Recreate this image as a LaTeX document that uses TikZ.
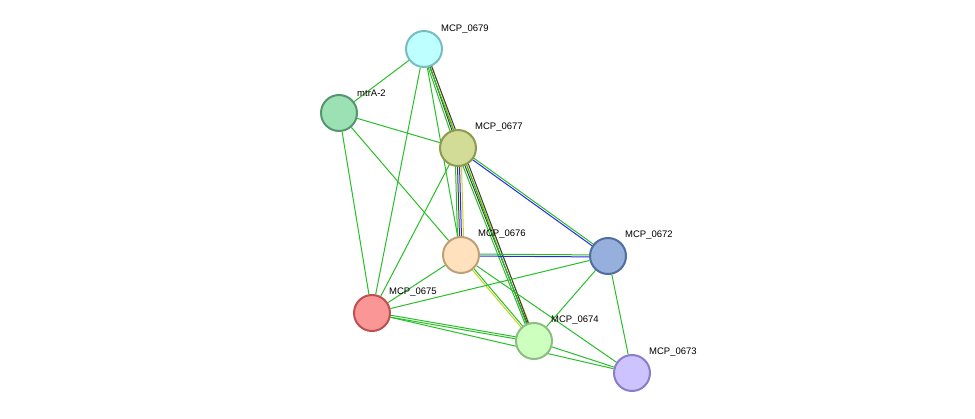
\documentclass[tikz,border=0pt]{standalone}
\usepackage{fontspec}
\setmainfont{Liberation Sans}
\usetikzlibrary{backgrounds,calc}
\tikzset{
	vert/.style={circle,line width=2pt,minimum size=36pt,inner sep=0},
	vlabel/.style={font=\fontsize{9.5}{11}\selectfont,anchor=south west,inner sep=1pt},
	edge/.style={line width=1pt}
}
\definecolor{sgreen}{RGB}{40,190,40}
\definecolor{sblue}{RGB}{40,40,230}
\definecolor{syellow}{RGB}{200,210,30}
\definecolor{sgray}{RGB}{60,60,60}
\definecolor{fA}{RGB}{190,255,255}\definecolor{dA}{RGB}{120,190,190}
\definecolor{fB}{RGB}{155,225,180}\definecolor{dB}{RGB}{85,150,110}
\definecolor{fC}{RGB}{210,220,150}\definecolor{dC}{RGB}{140,155,80}
\definecolor{fD}{RGB}{255,225,190}\definecolor{dD}{RGB}{190,160,120}
\definecolor{fE}{RGB}{150,175,220}\definecolor{dE}{RGB}{80,110,160}
\definecolor{fF}{RGB}{250,150,150}\definecolor{dF}{RGB}{190,80,80}
\definecolor{fG}{RGB}{205,255,190}\definecolor{dG}{RGB}{140,190,130}
\definecolor{fH}{RGB}{205,195,255}\definecolor{dH}{RGB}{140,125,200}
% parallel edge: from, to, offset, colour
\newcommand{\pedge}[4]{\draw [edge,#4] ($(#1)!#3!90:(#2)$) -- ($(#2)!#3!-90:(#1)$);}

\begin{document}
\begin{tikzpicture}[x=1pt,y=-1pt]
		\useasboundingbox (0,0) rectangle (975,419);
		\node [vert, draw=dA, fill=fA] (0679) at (424, 49) {};
		\node [vert, draw=dB, fill=fB] (mtrA) at (339, 113) {};
		\node [vert, draw=dC, fill=fC] (0677) at (458, 148) {};
		\node [vert, draw=dD, fill=fD] (0676) at (461, 255) {};
		\node [vert, draw=dE, fill=fE] (0672) at (608, 256) {};
		\node [vert, draw=dF, fill=fF] (0675) at (372, 313) {};
		\node [vert, draw=dG, fill=fG] (0674) at (534, 341) {};
		\node [vert, draw=dH, fill=fH] (0673) at (632, 373) {};
		
		\node [vlabel] at (440, 35) {MCP\_0679};
		\node [vlabel] at (356, 98) {mtrA-2};
		\node [vlabel] at (474, 133) {MCP\_0677};
		\node [vlabel] at (477, 240) {MCP\_0676};
		\node [vlabel] at (624, 241) {MCP\_0672};
		\node [vlabel] at (388, 298) {MCP\_0675};
		\node [vlabel] at (550, 326) {MCP\_0674};
		\node [vlabel] at (648, 358) {MCP\_0673};
		
		\begin{pgfonlayer}{background}
		% multi-evidence edges
		\pedge{0679}{0677}{-2pt}{sgreen}
		\pedge{0679}{0677}{0pt}{sgray}
		\pedge{0679}{0677}{2pt}{syellow}
		\pedge{0677}{0676}{-3pt}{sgreen}
		\pedge{0677}{0676}{-1pt}{sgray}
		\pedge{0677}{0676}{1pt}{sblue}
		\pedge{0677}{0676}{3pt}{syellow}
		\pedge{0677}{0674}{-2pt}{sgreen}
		\pedge{0677}{0674}{0pt}{sgray}
		\pedge{0677}{0674}{2pt}{syellow}
		\pedge{0679}{0674}{-1pt}{sgreen}
		\pedge{0679}{0674}{1pt}{sgray}
		\pedge{0677}{0672}{-1pt}{sblue}
		\pedge{0677}{0672}{1pt}{sgreen}
		\pedge{0676}{0672}{-1pt}{sblue}
		\pedge{0676}{0672}{1pt}{sgreen}
		\pedge{0676}{0674}{-1pt}{syellow}
		\pedge{0676}{0674}{1pt}{sgreen}
		\pedge{0675}{0674}{-1pt}{sgreen}
		\pedge{0675}{0674}{1pt}{sgreen}
		% single edges
		\draw [edge,sgreen] (0679) to (mtrA);
		\draw [edge,sgreen] (0679) to (0676);
		\draw [edge,sgreen] (0679) to (0675);
		\draw [edge,sgreen] (mtrA) to (0677);
		\draw [edge,sgreen] (mtrA) to (0676);
		\draw [edge,sgreen] (mtrA) to (0675);
		\draw [edge,sgreen] (0677) to (0675);
		\draw [edge,sgreen] (0676) to (0675);
		\draw [edge,sgreen] (0676) to (0673);
		\draw [edge,sgreen] (0672) to (0675);
		\draw [edge,sgreen] (0672) to (0674);
		\draw [edge,sgreen] (0672) to (0673);
		\draw [edge,sgreen] (0675) to (0673);
		\draw [edge,sgreen] (0674) to (0673);
		\end{pgfonlayer}
	\end{tikzpicture}
\end{document}
